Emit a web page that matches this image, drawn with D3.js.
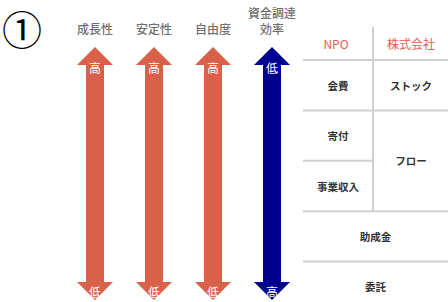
<!DOCTYPE html>
<html>
<head>
<meta charset="utf-8">
<script src="https://cdn.jsdelivr.net/npm/d3@7"></script>
<style>
  body { margin: 0; background: #fff; }
  svg { display: block; font-family: "Noto Sans CJK JP", "Noto Sans", sans-serif; }
</style>
</head>
<body>
<div id="chart"></div>
<script>
/* DATA */
const measures = ["成長性", "安定性", "自由度", "資金調達効率"];
const measureLines = [["成長性"], ["安定性"], ["自由度"], ["資金調達", "効率"]];
const topLabels = ["高", "高", "高", "低"];
const bottomLabels = ["低", "低", "低", "高"];
const arrowColors = ["#d9614a", "#d9614a", "#d9614a", "#000090"];

const tableHeader = ["NPO", "株式会社"];
const npoRows = ["会費", "寄付", "事業収入", "助成金", "委託"];
// right column: [label, first row, row span]
const companyCells = [["ストック", 0, 1], ["フロー", 1, 2]];
const fullRows = ["助成金", "委託"];

/* CONSTANTS */
const width = 448, height = 302;
const svg = d3.select("#chart").append("svg")
  .attr("width", width).attr("height", height);

// circled number
svg.append("text")
  .attr("x", 22).attr("y", 28)
  .attr("text-anchor", "middle").attr("dominant-baseline", "central")
  .attr("font-family", "Noto Sans CJK JP")
  .attr("font-size", 40)
  .text("①");

/* ARROWS */
const x = d3.scalePoint().domain(measures).range([95, 272]);
const y = d3.scaleLinear().domain([0, 1]).range([47, 300]);
const shaftW = 18, headW = 36, headH = 18;

function arrowPath(cx) {
  const p = d3.path();
  const t = y(0), b = y(1);
  p.moveTo(cx, t);
  p.lineTo(cx + headW / 2, t + headH);
  p.lineTo(cx + shaftW / 2, t + headH);
  p.lineTo(cx + shaftW / 2, b - headH);
  p.lineTo(cx + headW / 2, b - headH);
  p.lineTo(cx, b);
  p.lineTo(cx - headW / 2, b - headH);
  p.lineTo(cx - shaftW / 2, b - headH);
  p.lineTo(cx - shaftW / 2, t + headH);
  p.lineTo(cx - headW / 2, t + headH);
  p.closePath();
  return p.toString();
}

const arrows = svg.selectAll("g.arrow")
  .data(measures)
  .join("g")
  .attr("class", "arrow");

arrows.append("path")
  .attr("d", d => arrowPath(x(d)))
  .attr("fill", (d, i) => arrowColors[i]);

arrows.append("text")
  .attr("x", d => x(d)).attr("y", y(0) + 20)
  .attr("text-anchor", "middle").attr("dominant-baseline", "central")
  .attr("fill", "#fff").attr("font-size", 12)
  .text((d, i) => topLabels[i]);

arrows.append("text")
  .attr("x", d => x(d)).attr("y", y(1) - 9)
  .attr("text-anchor", "middle").attr("dominant-baseline", "central")
  .attr("fill", "#fff").attr("font-size", 12)
  .text((d, i) => bottomLabels[i]);

arrows.each(function(d, i) {
  const lines = measureLines[i];
  const g = d3.select(this);
  lines.forEach((ln, j) => {
    g.append("text")
      .attr("x", x(d))
      .attr("y", 28 - (lines.length - 1 - j) * 16)
      .attr("text-anchor", "middle").attr("dominant-baseline", "central")
      .attr("fill", "#6f6f6f").attr("font-size", 12).attr("font-weight", 500)
      .text(ln);
  });
});

/* TABLE */
const colX = d3.scaleBand().domain(tableHeader).range([303, 443]);
const rowY = d3.scaleBand().domain(npoRows).range([60, 312]);
const lineColor = "#cfcfcf";
const tableTop = 27, headerMid = 43;

const table = svg.append("g");

// header texts
table.selectAll("text.head")
  .data(tableHeader)
  .join("text")
  .attr("class", "head")
  .attr("x", d => colX(d) + colX.bandwidth() / 2 + (d === "NPO" ? -2 : 3))
  .attr("y", headerMid)
  .attr("text-anchor", "middle").attr("dominant-baseline", "central")
  .attr("fill", "#e0604e").attr("font-size", 12)
  .text(d => d);

// horizontal lines: header bottom + row boundaries
const hLines = [{ y: rowY(npoRows[0]), full: true }]
  .concat(npoRows.slice(1).map((r, i) => {
    const spanned = companyCells.some(c => c[2] > 1 && i >= c[1] && i + 1 < c[1] + c[2]);
    return { y: rowY(r), full: !spanned };
  }));

table.selectAll("line.h")
  .data(hLines)
  .join("line")
  .attr("class", "h")
  .attr("x1", colX.range()[0])
  .attr("x2", d => d.full ? width : colX(tableHeader[1]))
  .attr("y1", d => d.y).attr("y2", d => d.y)
  .attr("stroke", lineColor).attr("stroke-width", 2);

// vertical divider down to the last split row
const lastSplit = d3.max(companyCells, c => c[1] + c[2]);
table.append("line")
  .attr("x1", colX(tableHeader[1])).attr("x2", colX(tableHeader[1]))
  .attr("y1", tableTop).attr("y2", rowY(npoRows[lastSplit]))
  .attr("stroke", lineColor).attr("stroke-width", 2);

// NPO column cells
table.selectAll("text.npo")
  .data(npoRows)
  .join("text")
  .attr("class", "npo")
  .attr("x", d => fullRows.includes(d)
    ? (colX.range()[0] + width) / 2
    : colX(tableHeader[0]) + colX.bandwidth() / 2)
  .attr("y", d => rowY(d) + rowY.bandwidth() / 2)
  .attr("text-anchor", "middle").attr("dominant-baseline", "central")
  .attr("fill", "#333").attr("font-size", 10.5).attr("font-weight", 700)
  .text(d => d);

// company column cells
table.selectAll("text.co")
  .data(companyCells)
  .join("text")
  .attr("class", "co")
  .attr("x", colX(tableHeader[1]) + colX.bandwidth() / 2 + 3)
  .attr("y", d => rowY(npoRows[d[1]]) + rowY.step() * d[2] / 2)
  .attr("text-anchor", "middle").attr("dominant-baseline", "central")
  .attr("fill", "#333").attr("font-size", 10.5).attr("font-weight", 700)
  .text(d => d[0]);
</script>
</body>
</html>
